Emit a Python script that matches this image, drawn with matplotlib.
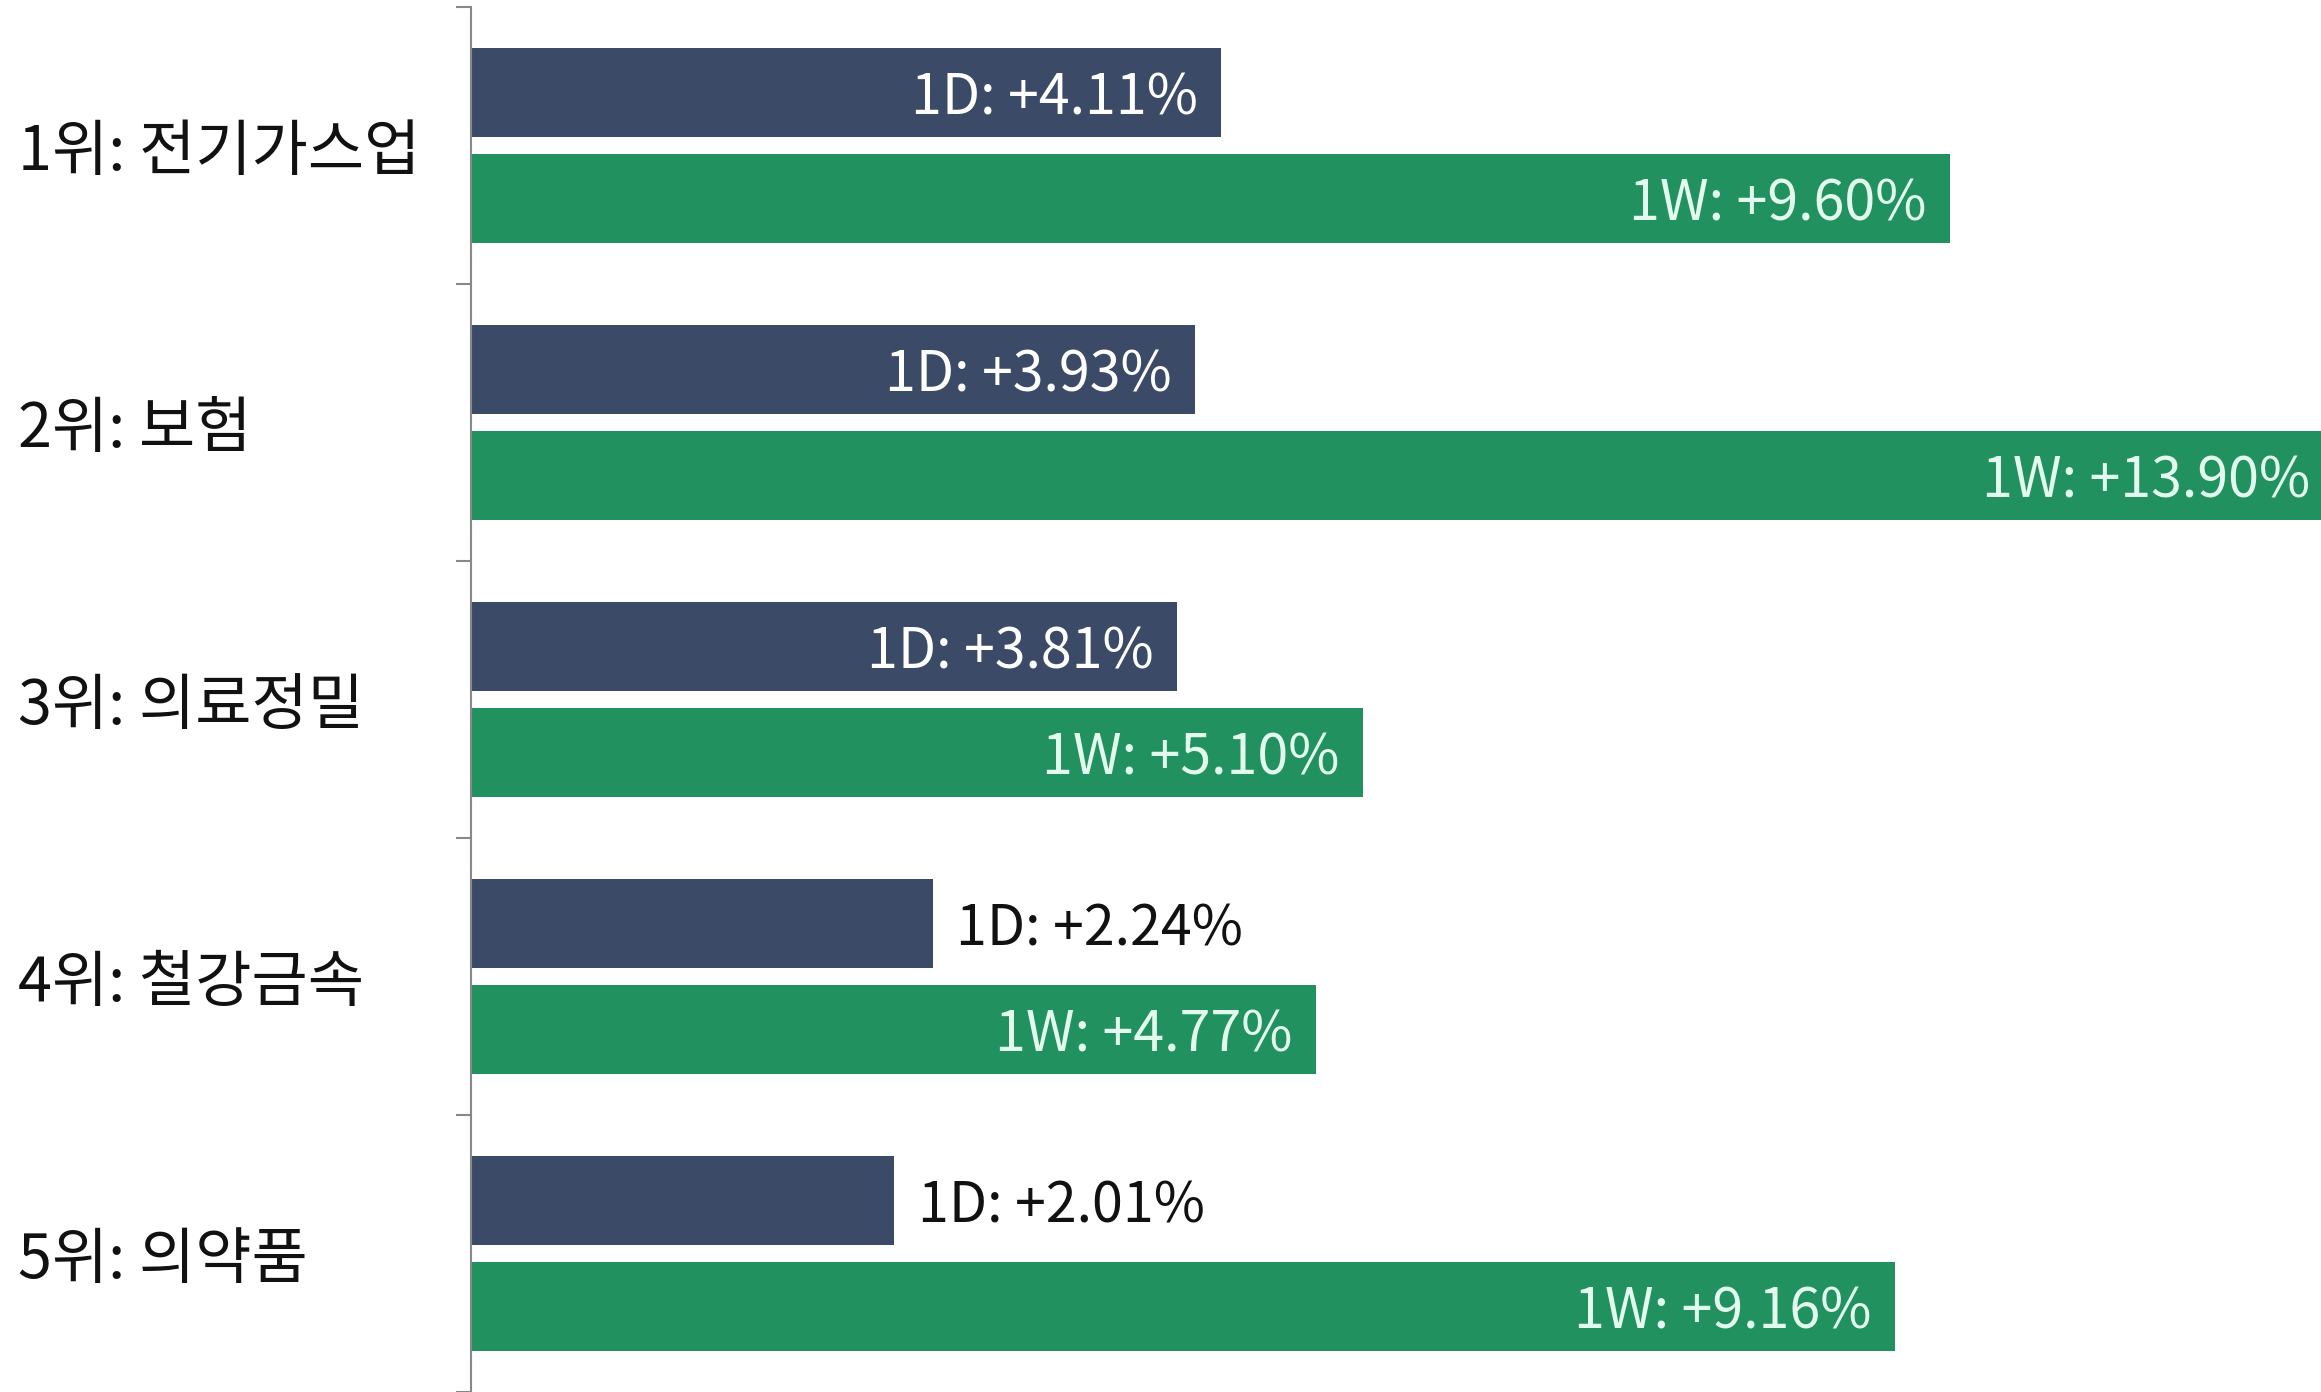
import matplotlib
matplotlib.use("Agg")
import matplotlib.pyplot as plt
import numpy as np

plt.rcParams['font.family'] = ['Noto Sans CJK KR', 'DejaVu Sans']

categories = ["1위: 전기가스업", "2위: 보험", "3위: 의료정밀", "4위: 철강금속", "5위: 의약품"]
day_change = [4.11, 3.93, 3.81, 2.24, 2.01]
week_change = [9.60, 13.90, 5.10, 4.77, 9.16]

c_day = "#3b4a66"
c_week = "#21925f"

fig = plt.figure(figsize=(23.21, 13.92), dpi=100)
ax = fig.add_axes([471 / 2321, 0.0, 1 - 471 / 2321, 1 - 7 / 1392])

y = np.arange(len(categories))
h = 0.32
off = 0.192
xmax = 12.7
p = 0.8

ax.set_xscale("function",
              functions=(lambda v: np.sign(v) * np.abs(v) ** p,
                         lambda u: np.sign(u) * np.abs(u) ** (1 / p)))

ax.barh(y - off, day_change, height=h, color=c_day)
ax.barh(y + off, week_change, height=h, color=c_week)

ax.set_xlim(0, xmax)
ax.set_ylim(len(categories) - 0.5, -0.5)

for yi, v in zip(y, day_change):
    txt = f"1D: +{v:.2f}%"
    if v > 3:
        ax.annotate(txt, (v, yi - off), xytext=(-17, 0), textcoords="offset points",
                    ha="right", va="center_baseline", fontsize=40, color="white")
    else:
        ax.annotate(txt, (v, yi - off), xytext=(17, 0), textcoords="offset points",
                    ha="left", va="center_baseline", fontsize=40, color="#111111")

for yi, v in zip(y, week_change):
    txt = f"1W: +{v:.2f}%"
    xv = min(v, xmax)
    pad = -17 if v <= xmax else -8
    ax.annotate(txt, (xv, yi + off), xytext=(pad, 0), textcoords="offset points",
                ha="right", va="center_baseline", fontsize=40, color="#e3fbef")

# boundaries as major ticks, labels on minor ticks
ax.set_yticks(np.arange(-0.5, len(categories) + 0.5, 1.0))
ax.set_yticklabels([])
ax.set_yticks(y, minor=True)
ax.set_yticklabels(categories, minor=True, ha="left", fontsize=44, color="#111111")
ax.tick_params(axis="y", which="major", length=11, width=1.5, color="#888888")
ax.tick_params(axis="y", which="minor", length=0, pad=326)
ax.set_xticks([])
ax.set_xticks([], minor=True)

for s in ["top", "right", "bottom"]:
    ax.spines[s].set_visible(False)
ax.spines["left"].set_color("#888888")
ax.spines["left"].set_linewidth(1.5)

fig.savefig("out.png", dpi=100, facecolor="white")
